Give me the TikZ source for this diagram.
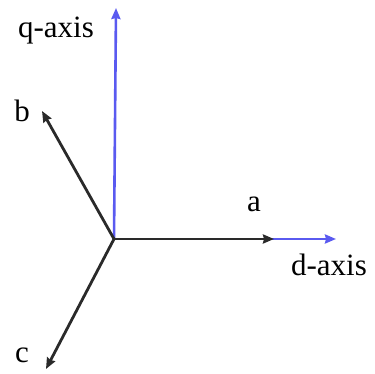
\documentclass[tikz,border=0pt]{standalone}
\usepackage{fontspec}
\setmainfont{Liberation Serif}
\usetikzlibrary{arrows.meta}
\definecolor{axBlue}{HTML}{5A5AF0}
\definecolor{phGrey}{HTML}{2A2A2A}

\begin{document}
\begin{tikzpicture}[
  x=1pt, y=-1pt,
  font=\fontsize{31}{34}\selectfont,
  axis/.style  ={-{Stealth[length=11pt,width=9pt,inset=1pt]}, draw=axBlue, line width=2.6pt},
  phase/.style ={-{Stealth[length=11pt,width=9pt,inset=1pt]}, draw=phGrey, line width=2.8pt},
  lbl/.style   ={inner sep=0pt, text=black},
]
\useasboundingbox (0,0) rectangle (375,374);

% ---- origin and the ends of the five arrows ----
\coordinate (O)  at (114,239);
\coordinate (qE) at (116,8);
\coordinate (dE) at (336,239);
\coordinate (aE) at (274,239);
\coordinate (bE) at (42,111);
\coordinate (cE) at (46,369);

% the d-q frame, drawn first so phase a lies on top of it
\draw[axis] (O) -- (qE);
\draw[axis] (O) -- (dE);

% the three phase axes
\draw[phase] (O) -- (aE);
\draw[phase] (O) -- (bE);
\draw[phase] (O) -- (cE);

% labels
\node[lbl] (qL) at (56,31)  {q-axis};
\node[lbl] (dL) at (329,265) {d-axis};
\node[lbl] (aL) at (254,204) {a};
\node[lbl] (bL) at (22,111)  {b};
\node[lbl] (cL) at (22,355)  {c};

\end{tikzpicture}
\end{document}
